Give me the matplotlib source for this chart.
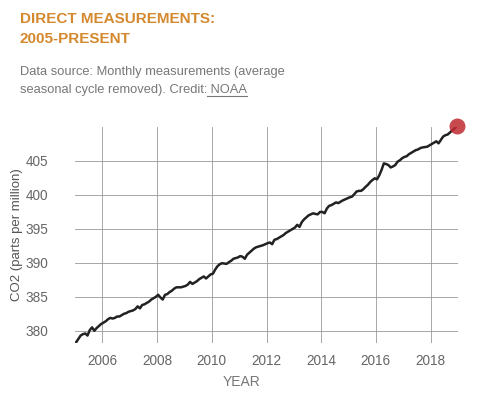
import numpy as np
import matplotlib.pyplot as plt
from matplotlib.lines import Line2D

plt.rcParams['font.family'] = ['Liberation Sans', 'DejaVu Sans']

# monthly CO2 (ppm), Jan 2005 .. Dec 2018
co2_2005 = [378.3, 378.8, 379.3, 379.5, 379.6, 379.3, 380.1, 380.5, 380.0, 380.4, 380.7, 381.0]
co2_2006 = [381.2, 381.4, 381.7, 381.9, 381.8, 381.9, 382.1, 382.1, 382.3, 382.5, 382.6, 382.8]
co2_2007 = [382.9, 383.0, 383.2, 383.6, 383.3, 383.8, 383.9, 384.1, 384.3, 384.6, 384.8, 385.0]
co2_2008 = [385.3, 384.9, 384.6, 385.3, 385.4, 385.7, 385.9, 386.2, 386.4, 386.4, 386.4, 386.5]
co2_2009 = [386.6, 386.8, 387.2, 386.9, 387.1, 387.3, 387.6, 387.8, 388.0, 387.7, 388.0, 388.3]
co2_2010 = [388.4, 389.0, 389.5, 389.8, 389.95, 389.9, 389.85, 390.1, 390.3, 390.6, 390.7, 390.8]
co2_2011 = [391.0, 390.9, 390.6, 391.2, 391.5, 391.8, 392.1, 392.3, 392.4, 392.5, 392.6, 392.75]
co2_2012 = [392.9, 393.0, 392.75, 393.4, 393.5, 393.7, 393.9, 394.1, 394.4, 394.6, 394.8, 395.0]
co2_2013 = [395.2, 395.6, 395.3, 396.0, 396.4, 396.7, 397.0, 397.15, 397.3, 397.2, 397.15, 397.5]
co2_2014 = [397.5, 397.3, 398.0, 398.4, 398.5, 398.7, 398.9, 398.8, 399.0, 399.2, 399.35, 399.5]
co2_2015 = [399.65, 399.75, 400.1, 400.5, 400.6, 400.6, 400.85, 401.2, 401.5, 401.9, 402.2, 402.45]
co2_2016 = [402.3, 402.9, 403.7, 404.65, 404.55, 404.4, 404.05, 404.2, 404.4, 404.9, 405.1, 405.4]
co2_2017 = [405.6, 405.7, 406.0, 406.2, 406.4, 406.6, 406.7, 406.9, 407.0, 407.05, 407.1, 407.3]
co2_2018 = [407.5, 407.7, 407.9, 407.6, 408.1, 408.6, 408.8, 408.9, 409.2, 409.5, 409.8, 410.2]

co2 = np.array(co2_2005 + co2_2006 + co2_2007 + co2_2008 + co2_2009 + co2_2010 + co2_2011
               + co2_2012 + co2_2013 + co2_2014 + co2_2015 + co2_2016 + co2_2017 + co2_2018)
years = 2005.04 + np.arange(len(co2)) / 12

xticks = [2006, 2008, 2010, 2012, 2014, 2016, 2018]
yticks = [380, 385, 390, 395, 400, 405]

fig = plt.figure(figsize=(4.78, 3.96), dpi=100)
ax = fig.add_axes([75/478, 1-343/396, 383/478, (343-126.7)/396])

ax.plot(years, co2, color='#222222', lw=1.8, solid_joinstyle='round')
ax.plot(years[-1], co2[-1], 'o', color='#bf2a2f', ms=11.5, alpha=0.85, mec='none', clip_on=False, zorder=5)

ax.set_xlim(2005, 2019)
ax.set_ylim(378.2, 410.05)
ax.set_xticks(xticks)
ax.set_yticks(yticks)
ax.grid(True, color='#999999', lw=0.6)
ax.set_axisbelow(True)
for s in ax.spines.values():
    s.set_visible(False)
ax.tick_params(length=0, labelsize=9.8, labelcolor='#666666')
ax.tick_params(axis='y', pad=19)
ax.tick_params(axis='x', pad=8)
ax.set_ylabel('CO2 (parts per million)', fontsize=9.5, color='#555555', labelpad=2)

fig.text(242/478, 1-382/396, 'YEAR', ha='center', va='center', fontsize=10, color='#777777')

# title and credit text
fig.text(20/478, 1-23/396, 'DIRECT MEASUREMENTS:', fontsize=11, fontweight='bold',
         color='#d4892e', va='baseline')
fig.text(20/478, 1-43/396, '2005-PRESENT', fontsize=11, fontweight='bold',
         color='#d4892e', va='baseline')
fig.text(20/478, 1-75/396, 'Data source: Monthly measurements (average', fontsize=9.3,
         color='#777777', va='baseline')
t2 = fig.text(20/478, 1-93/396, 'seasonal cycle removed). Credit:', fontsize=9.3,
              color='#777777', va='baseline')
r = fig.canvas.get_renderer()
bb = t2.get_window_extent(r)
t3 = fig.text(bb.x1/fig.bbox.width, 1-93/396, ' NOAA', fontsize=9.3,
              color='#777777', va='baseline')
bb3 = t3.get_window_extent(r)
uy = 1-95.5/396
fig.add_artist(Line2D([bb3.x0/fig.bbox.width, bb3.x1/fig.bbox.width], [uy, uy],
                      color='#777777', lw=0.8, transform=fig.transFigure))

fig.savefig('out.png', dpi=100)
